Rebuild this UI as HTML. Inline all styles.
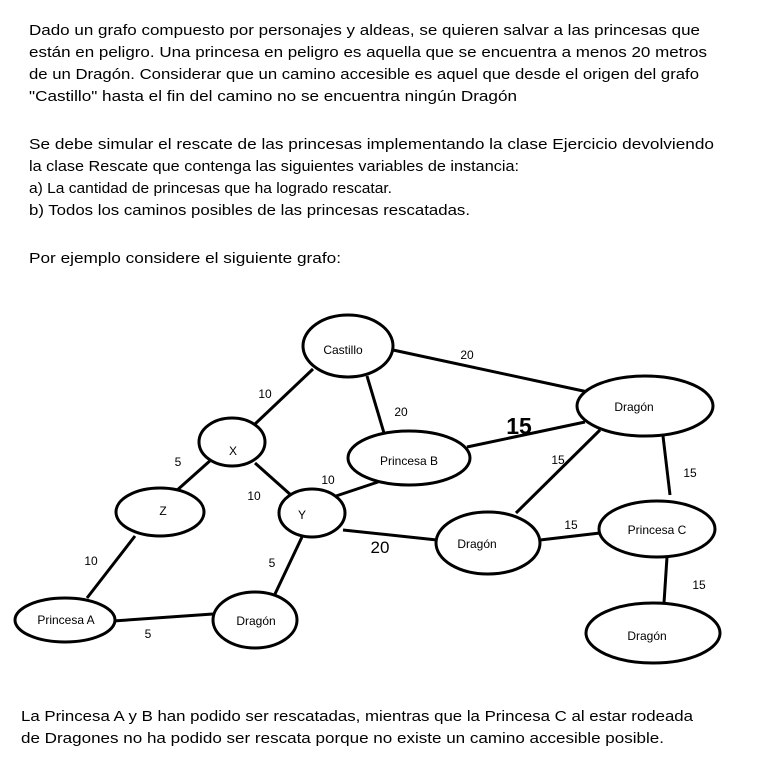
<!DOCTYPE html>
<html><head><meta charset="utf-8"><style>
html,body{margin:0;padding:0;background:#fff;}
svg{display:block;}
text{font-family:"Liberation Sans",sans-serif;fill:#000;}
.p{font-size:15px;}
.l{font-size:12px;}
</style></head><body>
<svg width="770" height="767" viewBox="0 0 770 767" xmlns="http://www.w3.org/2000/svg">
<g class="p">
<text x="29" y="35" textLength="671" lengthAdjust="spacingAndGlyphs">Dado un grafo compuesto por personajes y aldeas, se quieren salvar a las princesas que</text>
<text x="29" y="57" textLength="678" lengthAdjust="spacingAndGlyphs">están en peligro. Una princesa en peligro es aquella que se encuentra a menos 20 metros</text>
<text x="29" y="79" textLength="670" lengthAdjust="spacingAndGlyphs">de un Dragón. Considerar que un camino accesible es aquel que desde el origen del grafo</text>
<text x="29" y="101" textLength="488" lengthAdjust="spacingAndGlyphs">"Castillo" hasta el fin del camino no se encuentra ningún Dragón</text>
<text x="29" y="149" textLength="685" lengthAdjust="spacingAndGlyphs">Se debe simular el rescate de las princesas implementando la clase Ejercicio devolviendo</text>
<text x="29" y="171" textLength="490" lengthAdjust="spacingAndGlyphs">la clase Rescate que contenga las siguientes variables de instancia:</text>
<text x="29" y="193" textLength="363" lengthAdjust="spacingAndGlyphs">a) La cantidad de princesas que ha logrado rescatar.</text>
<text x="29" y="215" textLength="441" lengthAdjust="spacingAndGlyphs">b) Todos los caminos posibles de las princesas rescatadas.</text>
<text x="29" y="263" textLength="312" lengthAdjust="spacingAndGlyphs">Por ejemplo considere el siguiente grafo:</text>
<text x="21" y="721" textLength="672" lengthAdjust="spacingAndGlyphs">La Princesa A y B han podido ser rescatadas, mientras que la Princesa C al estar rodeada</text>
<text x="21" y="743" textLength="643" lengthAdjust="spacingAndGlyphs">de Dragones no ha podido ser rescata porque no existe un camino accesible posible.</text>
</g>
<g stroke="#000" stroke-width="3" fill="none">
<line x1="393" y1="350" x2="588" y2="392"/>
<line x1="313" y1="369" x2="255" y2="424"/>
<line x1="367" y1="376" x2="384" y2="433"/>
<line x1="212" y1="459" x2="175" y2="492"/>
<line x1="255" y1="463" x2="292" y2="496"/>
<line x1="330" y1="498" x2="378" y2="482"/>
<line x1="135" y1="536" x2="87" y2="598"/>
<line x1="302" y1="537" x2="275" y2="594"/>
<line x1="113" y1="621" x2="213" y2="614"/>
<line x1="343" y1="530" x2="437" y2="540"/>
<line x1="467" y1="447" x2="585" y2="422"/>
<line x1="600" y1="430" x2="516" y2="513"/>
<line x1="663" y1="436" x2="670" y2="495"/>
<line x1="540" y1="540" x2="600" y2="533"/>
<line x1="667" y1="557" x2="664" y2="603"/>
</g>
<g stroke="#000" stroke-width="3" fill="#fff">
<ellipse cx="348" cy="346" rx="45" ry="31"/>
<ellipse cx="232" cy="442" rx="33" ry="24"/>
<ellipse cx="160" cy="512" rx="44" ry="24"/>
<ellipse cx="312" cy="513" rx="33" ry="24"/>
<ellipse cx="409" cy="458" rx="61" ry="27"/>
<ellipse cx="645" cy="406" rx="68" ry="30"/>
<ellipse cx="488" cy="543" rx="52" ry="31"/>
<ellipse cx="657" cy="529" rx="58" ry="28"/>
<ellipse cx="653" cy="633" rx="67" ry="30"/>
<ellipse cx="65" cy="620" rx="50" ry="22"/>
<ellipse cx="255" cy="620" rx="42" ry="28"/>
</g>
<g class="l" text-anchor="middle">
<text x="343" y="354">Castillo</text>
<text x="233" y="455">X</text>
<text x="163" y="515">Z</text>
<text x="302" y="519">Y</text>
<text x="409" y="465">Princesa B</text>
<text x="634" y="411">Dragón</text>
<text x="477" y="548">Dragón</text>
<text x="657" y="534">Princesa  C</text>
<text x="647" y="640">Dragón</text>
<text x="66" y="624">Princesa A</text>
<text x="256" y="625">Dragón</text>
<text x="467" y="359">20</text>
<text x="265" y="398">10</text>
<text x="401" y="416">20</text>
<text x="178" y="466">5</text>
<text x="254" y="500">10</text>
<text x="328" y="484">10</text>
<text x="91" y="565">10</text>
<text x="272" y="567">5</text>
<text x="148" y="638">5</text>
<text x="558" y="464">15</text>
<text x="690" y="477">15</text>
<text x="571" y="529">15</text>
<text x="699" y="589">15</text>
<text x="380" y="553" style="font-size:17px">20</text>
<text x="519" y="434" style="font-size:23px;font-weight:bold">15</text>
</g>
</svg>
</body></html>
